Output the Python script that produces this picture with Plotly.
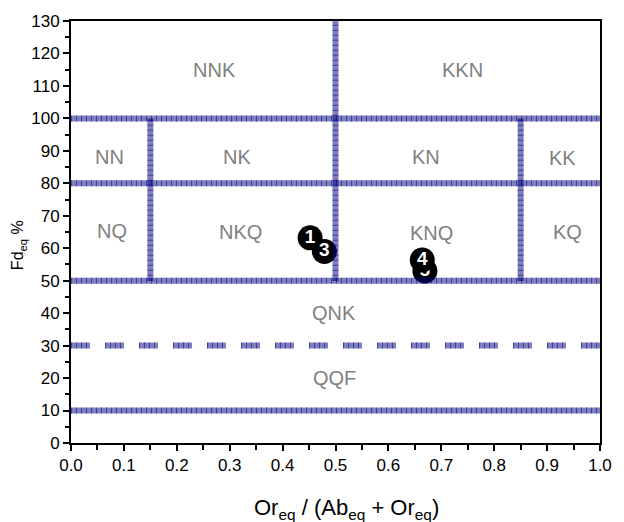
import plotly.graph_objects as go

# ---- data ----
point_labels = ["1", "3", "5", "4"]
point_x = [0.452, 0.479, 0.669, 0.664]
point_y = [63.2, 59.0, 53.0, 56.4]

# boundary segments (field diagram)
h_lines_y = [100, 80, 50, 10]          # full-width solid boundaries
dashed_y = 30                           # dashed boundary
v_lines = [(0.5, 50, 130), (0.15, 50, 100), (0.85, 50, 100)]  # x, y0, y1

region_names = ["NNK", "KKN", "NN", "NK", "KN", "KK", "NQ", "NKQ", "KNQ", "KQ", "QNK", "QQF"]
region_x = [0.271, 0.741, 0.072, 0.313, 0.672, 0.930, 0.078, 0.320, 0.681, 0.939, 0.498, 0.498]
region_y = [114.8, 114.8, 88, 88, 88, 87.7, 65.2, 65, 64.8, 64.9, 40, 20]

x_ticks = [0.0, 0.1, 0.2, 0.3, 0.4, 0.5, 0.6, 0.7, 0.8, 0.9, 1.0]
y_ticks = list(range(0, 131, 10))

FONT = "Liberation Sans, Arial, sans-serif"
NAVY_A = "rgba(0,0,128,0.5)"

fig = go.Figure()

# markers (drawn first so the semi-transparent boundaries overlay them)
for lab, px, py in zip(point_labels, point_x, point_y):
    fig.add_trace(go.Scatter(
        x=[px], y=[py], mode="markers+text", text=[lab],
        textposition="middle center",
        textfont=dict(family=FONT, size=19, color="white", weight="bold"),
        marker=dict(size=25, color="black", line=dict(width=0)),
        showlegend=False, hoverinfo="skip", cliponaxis=False))

def add_boundary(xs, ys, dash_main="solid", dash_tick="1px,4px"):
    fig.add_trace(go.Scatter(x=xs, y=ys, mode="lines",
                             line=dict(color=NAVY_A, width=6, dash=dash_main),
                             showlegend=False, hoverinfo="skip"))
    fig.add_trace(go.Scatter(x=xs, y=ys, mode="lines",
                             line=dict(color=NAVY_A, width=6, dash=dash_tick),
                             showlegend=False, hoverinfo="skip"))

for yv in h_lines_y:
    add_boundary([0, 1], [yv, yv])
for xv, y0, y1 in v_lines:
    add_boundary([xv, xv], [y0, y1])
add_boundary([0, 1], [dashed_y, dashed_y], dash_main="19px,15px",
             dash_tick="1px,4px,1px,4px,1px,4px,1px,18px")

# region labels
for name, rx, ry in zip(region_names, region_x, region_y):
    fig.add_annotation(x=rx, y=ry, xref="x", yref="y", text=name, showarrow=False,
                       font=dict(family=FONT, size=20, color="#808080"))

# axis titles
fig.add_annotation(x=-0.098, y=61, xref="paper", yref="y", text="Fd<sub>eq</sub> %",
                   textangle=-90, showarrow=False, xanchor="center", yanchor="middle",
                   font=dict(family=FONT, size=16, color="black"))
fig.add_annotation(x=0.52, y=-0.157, xref="paper", yref="paper",
                   text="Or<sub>eq</sub> / (Ab<sub>eq</sub> + Or<sub>eq</sub>)",
                   showarrow=False, xanchor="center", yanchor="middle",
                   font=dict(family=FONT, size=22, color="black"))

fig.update_xaxes(range=[0, 1], tickvals=x_ticks, ticktext=[f"{v:.1f}" for v in x_ticks],
                 ticks="outside", ticklen=6, tickwidth=2, tickcolor="black",
                 showline=True, linecolor="black", linewidth=2, mirror=True,
                 showgrid=False, zeroline=False,
                 minor=dict(dtick=0.05, ticks="outside", ticklen=5, tickwidth=2, tickcolor="black"),
                 tickfont=dict(family=FONT, size=17, color="black"))
fig.update_yaxes(range=[0, 130], tickvals=y_ticks,
                 ticks="outside", ticklen=6, tickwidth=2, tickcolor="black",
                 showline=True, linecolor="black", linewidth=2, mirror=True,
                 showgrid=False, zeroline=False,
                 minor=dict(dtick=5, ticks="outside", ticklen=4, tickwidth=2, tickcolor="black"),
                 tickfont=dict(family=FONT, size=17, color="black"))

fig.update_layout(width=624, height=522, margin=dict(l=71, r=13, t=18, b=79),
                  paper_bgcolor="white", plot_bgcolor="white", showlegend=False)

fig.write_html("out.html")
